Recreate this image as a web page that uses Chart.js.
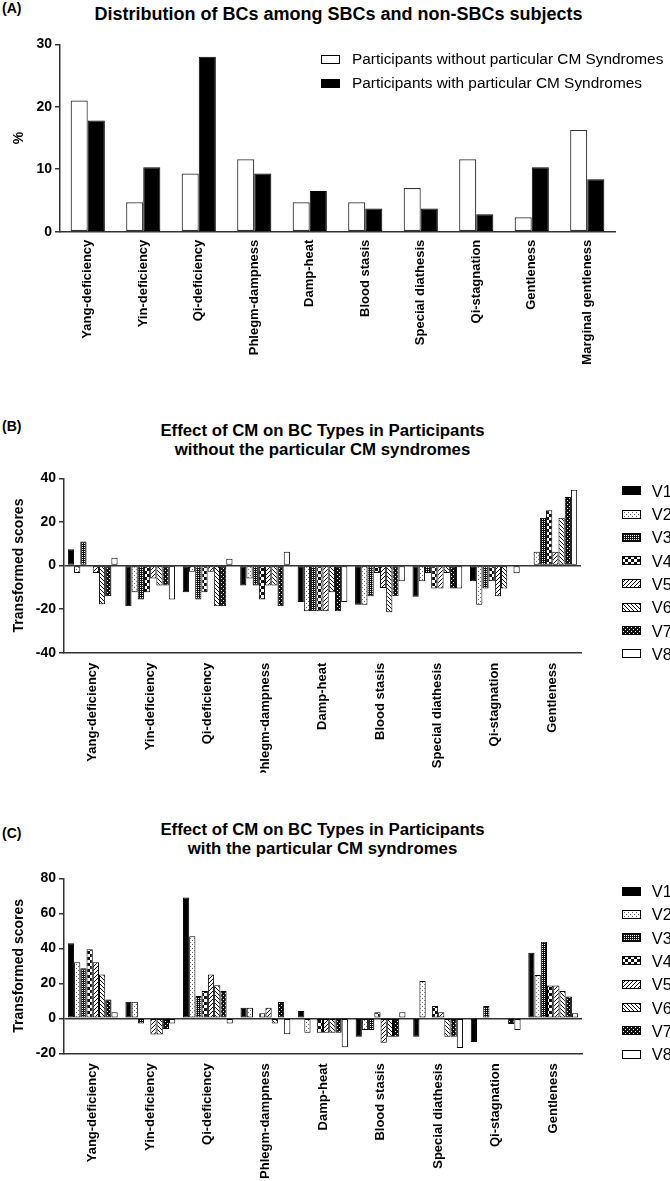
<!DOCTYPE html>
<html>
<head>
<meta charset="utf-8">
<script src="https://cdn.jsdelivr.net/npm/chart.js@4.4.0/dist/chart.umd.min.js"></script>
<style>
  html, body { margin: 0; padding: 0; background: #fff; }
  body { width: 670px; height: 1181px; position: relative; overflow: hidden;
         font-family: "Liberation Sans", Arial, sans-serif; color: #000; }
  canvas.chart { position: absolute; left: 0; }
  .tag { position: absolute; left: 2px; font-weight: bold; font-size: 14px; line-height: 16px; }
  .ttl { position: absolute; left: 0; text-align: center; font-weight: bold; white-space: nowrap; }
  .leg { position: absolute; white-space: nowrap; line-height: 16px; }
  .leg-box { position: absolute; }
</style>
</head>
<body>
<div class="tag" style="top:0px">(A)</div>
<div class="ttl" style="top:4px;width:677px;font-size:18px;line-height:20px">Distribution of BCs among SBCs and non-SBCs subjects</div>
<div class="tag" style="top:418px">(B)</div>
<div class="ttl" style="top:421px;width:645px;font-size:16.8px;line-height:19px">Effect of CM on BC Types in Participants<br>without the particular CM syndromes</div>
<div class="tag" style="top:825px">(C)</div>
<div class="ttl" style="top:820px;width:645px;font-size:16.8px;line-height:19px">Effect of CM on BC Types in Participants<br>with the particular CM syndromes</div>

<canvas id="chart-a" class="chart" width="670" height="385" style="top:0px"></canvas>
<canvas id="chart-b" class="chart" width="670" height="395" style="top:385px"></canvas>
<canvas id="chart-c" class="chart" width="670" height="401" style="top:780px"></canvas>

<script>
/* ---- data ---- */
var CATS_A = ['Yang-deficiency', 'Yin-deficiency', 'Qi-deficiency', 'Phlegm-dampness', 'Damp-heat',
              'Blood stasis', 'Special diathesis', 'Qi-stagnation', 'Gentleness', 'Marginal gentleness'];
var A_WITHOUT = [21.0, 4.7, 9.3, 11.6, 4.7, 4.7, 7.0, 11.6, 2.3, 16.3];
var A_WITH    = [17.8, 10.3, 28.0, 9.3, 6.5, 3.7, 3.7, 2.8, 10.3, 8.4];
var A_SERIES  = ['Participants without particular CM Syndromes', 'Participants with particular CM Syndromes'];
var A_TICKS   = [0, 10, 20, 30];

var CATS_BC = ['Yang-deficiency', 'Yin-deficiency', 'Qi-deficiency', 'Phlegm-dampness', 'Damp-heat',
               'Blood stasis', 'Special diathesis', 'Qi-stagnation', 'Gentleness'];
var VISITS = ['V1', 'V2', 'V3', 'V4', 'V5', 'V6', 'V7', 'V8'];

// (B) without the particular CM syndromes
var B_V1 = [7.4, -18.7, -12.3, -9.2, -16.7, -18.0, -14.3, -7.2, 0];
var B_V2 = [-3.4, -12.3, -2.9, -6.0, -21.0, -18.0, -7.2, -18.0, 6.3];
var B_V3 = [11.0, -15.6, -15.6, -9.2, -21.0, -14.1, -3.4, -10.6, 21.9];
var B_V4 = [0, -12.3, -12.3, -15.6, -21.0, -3.4, -10.6, -7.2, 25.3];
var B_V5 = [-3.4, -6.0, -2.9, -9.2, -21.0, -10.3, -10.6, -14.1, 6.3];
var B_V6 = [-17.8, -9.2, -18.7, -9.2, -12.3, -21.5, -3.4, -10.6, 21.9];
var B_V7 = [-14.1, -9.2, -18.7, -18.7, -21.0, -14.1, -10.6, 0, 31.4];
var B_V8 = [3.5, -15.6, 3.1, 6.3, -16.7, -7.2, -10.6, -3.5, 34.7];
var B_TICKS = [-40, 40, 20];

// (C) with the particular CM syndromes
var C_V1 = [42.9, 9.5, 69.0, 6.1, 4.2, -10.5, -10.5, -13.5, 37.5];
var C_V2 = [32.0, 9.5, 46.9, 6.1, -8.2, -6.7, 21.3, 0, 24.8];
var C_V3 = [28.6, -2.9, 12.8, 0, 0, -6.7, 0, 7.0, 43.8];
var C_V4 = [39.4, 0, 15.6, 2.9, -8.2, 3.4, 7.0, 0, 18.8];
var C_V5 = [32.0, -9.3, 25.0, 6.1, -8.2, -13.9, 3.4, 0, 18.8];
var C_V6 = [25.1, -9.3, 18.9, -3.0, -8.2, -10.5, -10.5, 0, 15.6];
var C_V7 = [10.7, -6.1, 15.6, 9.3, -8.2, -10.5, -10.5, -3.3, 12.5];
var C_V8 = [3.4, -2.9, -3.0, -9.1, -16.6, 3.4, -17.0, -6.7, 2.9];
var C_TICKS = [-20, 80, 20];

var FONT = '"Liberation Sans", Arial, sans-serif';
var AXIS = '#333';
Chart.defaults.font.family = FONT;
Chart.defaults.color = '#000';

/* ---- fill patterns (Prism style) ---- */
function pattern(kind) {
  if (kind === 'solid') return '#000';
  if (kind === 'white') return '#fff';
  var c = document.createElement('canvas');
  var n = kind === 'checker' ? 6 : (kind === 'fine' ? 2 : 4);
  c.width = n; c.height = n;
  var g = c.getContext('2d');
  function px(i, j, col) { g.fillStyle = col; g.fillRect(i, j, 1, 1); }
  var i;
  if (kind === 'dots') {
    g.fillStyle = '#fff'; g.fillRect(0, 0, n, n);
    px(0, 0, '#666'); px(2, 2, '#666');
  } else if (kind === 'fine') {
    g.fillStyle = '#111'; g.fillRect(0, 0, n, n);
    px(0, 0, '#fff');
  } else if (kind === 'checker') {
    g.fillStyle = '#fff'; g.fillRect(0, 0, n, n);
    g.fillStyle = '#111'; g.fillRect(0, 0, 3, 3); g.fillRect(3, 3, 3, 3);
  } else if (kind === 'fwd') {
    g.fillStyle = '#fff'; g.fillRect(0, 0, n, n);
    for (i = 0; i < n; i++) px(i, n - 1 - i, '#000');
  } else if (kind === 'back') {
    g.fillStyle = '#fff'; g.fillRect(0, 0, n, n);
    for (i = 0; i < n; i++) px(i, i, '#000');
  } else if (kind === 'brick') {
    g.fillStyle = '#111'; g.fillRect(0, 0, n, n);
    px(1, 1, '#fff'); px(3, 3, '#fff');
  }
  return g.createPattern(c, 'repeat');
}
var FILLS = ['solid', 'dots', 'fine', 'checker', 'fwd', 'back', 'brick', 'white'].map(pattern);

/* ---- html legends ---- */
function legendRow(x, cy, fill, text, fontSize, textX) {
  var box = document.createElement('canvas');
  box.width = 19; box.height = 9;
  box.className = 'leg-box';
  box.style.left = x + 'px'; box.style.top = Math.round(cy - 4.5) + 'px';
  var g = box.getContext('2d');
  g.fillStyle = fill; g.fillRect(0, 0, 19, 9);
  g.strokeStyle = '#000'; g.lineWidth = 1; g.strokeRect(0.5, 0.5, 18, 8);
  document.body.appendChild(box);
  var t = document.createElement('div');
  t.className = 'leg';
  t.style.left = textX + 'px'; t.style.top = (cy - 8) + 'px';
  t.style.fontSize = fontSize + 'px';
  t.textContent = text;
  document.body.appendChild(t);
}
legendRow(320.5, 59, '#fff', A_SERIES[0], 15.4, 352);
legendRow(320.5, 83, '#000', A_SERIES[1], 15.4, 352);
VISITS.forEach(function (v, i) {
  legendRow(621.7, 490.7 + 23.3 * i, FILLS[i], v, 16.5, 651.7);
  legendRow(621.7, 891 + 23.3 * i, FILLS[i], v, 16.5, 651.7);
});

/* ---- shared axis pieces ---- */
function xAxis(h, pad) {
  return {
    grid: { display: false, drawTicks: false },
    border: { display: true, color: AXIS, width: 1.5 },
    ticks: { autoSkip: false, minRotation: 90, maxRotation: 90, padding: pad,
             font: { size: 13, weight: 'bold' }, color: '#000' },
    afterFit: function (s) { s.height = h; }
  };
}
function yAxis(min, max, step, w, title, zeroLine) {
  return {
    min: min, max: max,
    ticks: { stepSize: step, padding: 3, font: { size: 14, weight: 'bold' }, color: '#000' },
    grid: {
      drawOnChartArea: zeroLine,
      color: function (c) { return c.tick && c.tick.value === 0 ? AXIS : 'rgba(0,0,0,0)'; },
      tickColor: AXIS, tickLength: 5, lineWidth: 1.5
    },
    border: { display: true, color: AXIS, width: 1.5 },
    title: { display: true, text: title, font: { size: 14, weight: 'bold' }, color: '#000',
             padding: { top: 11, bottom: 0 } },
    afterFit: function (s) { s.width = w; }
  };
}
function baseOptions(padding, x, y) {
  return {
    responsive: false, animation: false, devicePixelRatio: 1,
    layout: { padding: padding },
    plugins: { legend: { display: false }, title: { display: false }, tooltip: { enabled: false } },
    scales: { x: x, y: y }
  };
}

/* ---- (A) ---- */
new Chart(document.getElementById('chart-a').getContext('2d'), {
  type: 'bar',
  data: {
    labels: CATS_A,
    datasets: [
      { label: A_SERIES[0], data: A_WITHOUT, backgroundColor: '#fff', borderColor: AXIS, borderWidth: 1.2,
        borderSkipped: false, categoryPercentage: 0.616, barPercentage: 1 },
      { label: A_SERIES[1], data: A_WITH, backgroundColor: '#000', borderColor: '#000', borderWidth: 1,
        borderSkipped: false, categoryPercentage: 0.616, barPercentage: 1 }
    ]
  },
  options: baseOptions({ top: 44.3, left: 0, right: 55, bottom: 3.3 },
    xAxis(150, 8),
    yAxis(A_TICKS[0], A_TICKS[A_TICKS.length - 1], A_TICKS[1] - A_TICKS[0], 60, '%', false))
});

/* ---- (B) and (C) ---- */
function visitSets(series) {
  return series.map(function (vals, i) {
    return { label: VISITS[i], data: vals, backgroundColor: FILLS[i], borderColor: '#000', borderWidth: 1,
             borderSkipped: false, categoryPercentage: 0.866, barPercentage: 1 };
  });
}

new Chart(document.getElementById('chart-b').getContext('2d'), {
  type: 'bar',
  data: { labels: CATS_BC, datasets: visitSets([B_V1, B_V2, B_V3, B_V4, B_V5, B_V6, B_V7, B_V8]) },
  options: baseOptions({ top: 93.3, left: 0, right: 89, bottom: 7.3 },
    xAxis(120, 10),
    yAxis(B_TICKS[0], B_TICKS[1], B_TICKS[2], 64, 'Transformed scores', true))
});

new Chart(document.getElementById('chart-c').getContext('2d'), {
  type: 'bar',
  data: { labels: CATS_BC, datasets: visitSets([C_V1, C_V2, C_V3, C_V4, C_V5, C_V6, C_V7, C_V8]) },
  options: baseOptions({ top: 98.3, left: 0, right: 88, bottom: 2.7 },
    xAxis(125, 10),
    yAxis(C_TICKS[0], C_TICKS[1], C_TICKS[2], 64, 'Transformed scores', true))
});
</script>
</body>
</html>
